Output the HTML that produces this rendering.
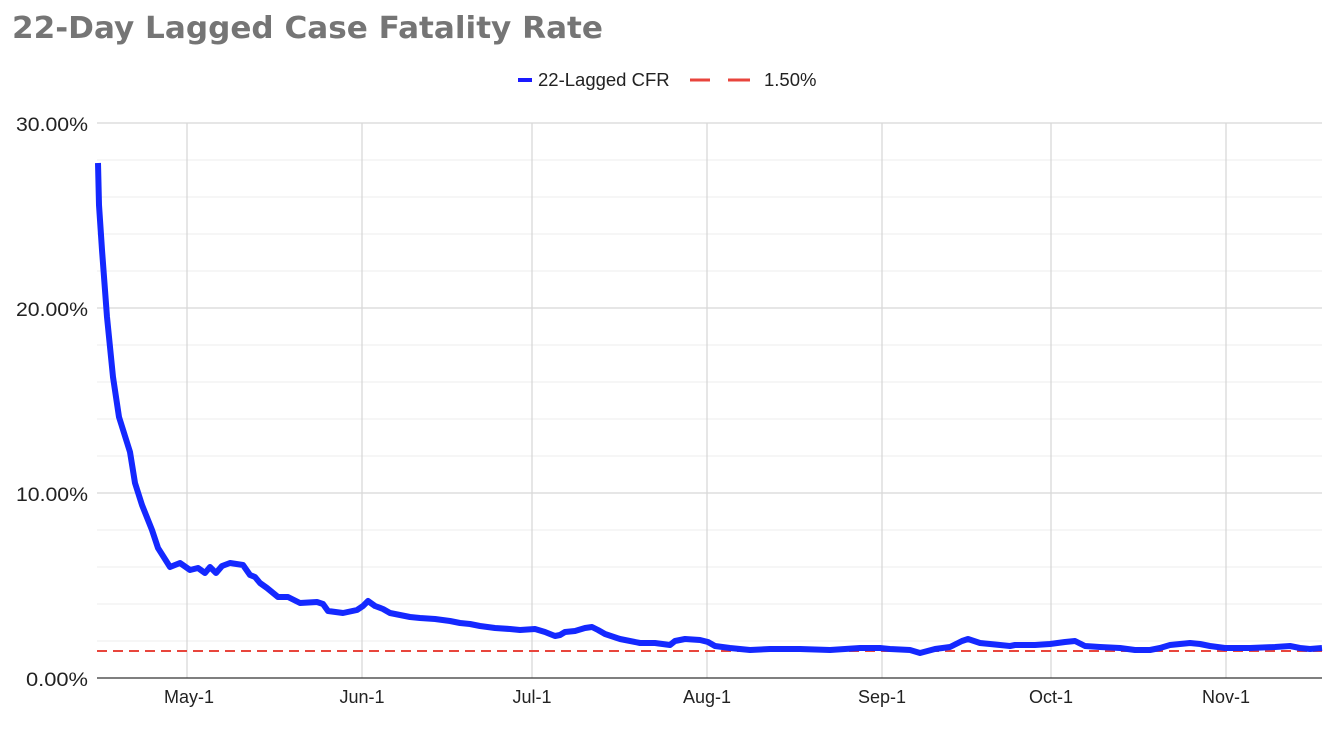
<!DOCTYPE html>
<html><head><meta charset="utf-8"><style>
body{margin:0;background:#fff;width:1344px;height:724px;overflow:hidden;font-family:"Liberation Sans",Arial,sans-serif}
</style></head><body>
<svg width="1344" height="724" xmlns="http://www.w3.org/2000/svg" font-family="Liberation Sans, Arial, sans-serif">
<text x="12" y="38" font-size="30" font-weight="bold" fill="#757575" font-family="DejaVu Sans, sans-serif" textLength="591" lengthAdjust="spacingAndGlyphs">22-Day Lagged Case Fatality Rate</text>
<line x1="518" y1="80" x2="532" y2="80" stroke="#1a1aff" stroke-width="4"/>
<text x="538" y="86" font-size="18.5" fill="#222">22-Lagged CFR</text>
<line x1="690" y1="80" x2="710" y2="80" stroke="#e8453c" stroke-width="3"/>
<line x1="728" y1="80" x2="750" y2="80" stroke="#e8453c" stroke-width="3"/>
<text x="764" y="86" font-size="18.5" fill="#222">1.50%</text>
<g stroke="#ececec" stroke-width="1">
<line x1="97" x2="1322" y1="160" y2="160"/><line x1="97" x2="1322" y1="197" y2="197"/><line x1="97" x2="1322" y1="234" y2="234"/><line x1="97" x2="1322" y1="271" y2="271"/>
<line x1="97" x2="1322" y1="345" y2="345"/><line x1="97" x2="1322" y1="382" y2="382"/><line x1="97" x2="1322" y1="419" y2="419"/><line x1="97" x2="1322" y1="456" y2="456"/>
<line x1="97" x2="1322" y1="530" y2="530"/><line x1="97" x2="1322" y1="567" y2="567"/><line x1="97" x2="1322" y1="604" y2="604"/><line x1="97" x2="1322" y1="641" y2="641"/>
</g>
<g stroke="#d8d8d8" stroke-width="1.3">
<line x1="97" x2="1322" y1="123" y2="123"/><line x1="97" x2="1322" y1="308" y2="308"/><line x1="97" x2="1322" y1="493" y2="493"/>
<line x1="187" x2="187" y1="123" y2="678"/><line x1="362" x2="362" y1="123" y2="678"/><line x1="532" x2="532" y1="123" y2="678"/><line x1="707" x2="707" y1="123" y2="678"/><line x1="882" x2="882" y1="123" y2="678"/><line x1="1051" x2="1051" y1="123" y2="678"/><line x1="1226" x2="1226" y1="123" y2="678"/>
</g>
<line x1="97" x2="1322" y1="678" y2="678" stroke="#333" stroke-width="1.3"/>
<g font-size="19" fill="#222" text-anchor="end">
<text x="88" y="131" textLength="72" lengthAdjust="spacingAndGlyphs">30.00%</text><text x="88" y="316" textLength="72" lengthAdjust="spacingAndGlyphs">20.00%</text><text x="88" y="501" textLength="72" lengthAdjust="spacingAndGlyphs">10.00%</text><text x="88" y="686" textLength="62" lengthAdjust="spacingAndGlyphs">0.00%</text>
</g>
<g font-size="18" fill="#222" text-anchor="middle">
<text x="189" y="703">May-1</text><text x="362" y="703">Jun-1</text><text x="532" y="703">Jul-1</text><text x="707" y="703">Aug-1</text><text x="882" y="703">Sep-1</text><text x="1051" y="703">Oct-1</text><text x="1226" y="703">Nov-1</text>
</g>
<line x1="97" x2="1322" y1="651" y2="651" stroke="#e8453c" stroke-width="2" stroke-dasharray="10,6"/>
<polyline fill="none" stroke="#1428ff" stroke-width="6" stroke-linejoin="round" points="98,163 99,205 102,250 107,317 113,377 119,417 130,452 135,483 142,505 152,530 158,548 170,567 180,563 190,570 198,568 205,573 210,567 216,573 222,566 230,563 243,565 250,575 255,577 260,583 267,588 278,597 288,597 300,603 317,602 323,604 328,611 343,613 357,610 363,606 368,601 375,606 383,609 390,613 400,615 410,617 420,618 435,619 450,621 460,623 470,624 480,626 495,628 510,629 520,630 535,629 545,632 555,636 560,635 565,632 575,631 585,628 592,627 598,630 605,634 620,639 640,643 655,643 670,645 675,641 685,639 700,640 708,642 715,646 730,648 750,650 770,649 800,649 830,650 860,648 880,648 890,649 910,650 920,653 935,649 950,647 958,643 962,641 968,639 980,643 1000,645 1010,646 1015,645 1035,645 1050,644 1065,642 1075,641 1085,646 1100,647 1120,648 1135,650 1150,650 1160,648 1170,645 1180,644 1190,643 1200,644 1210,646 1225,648 1250,648 1275,647 1290,646 1300,648 1310,649 1322,648"/>
</svg>
</body></html>
